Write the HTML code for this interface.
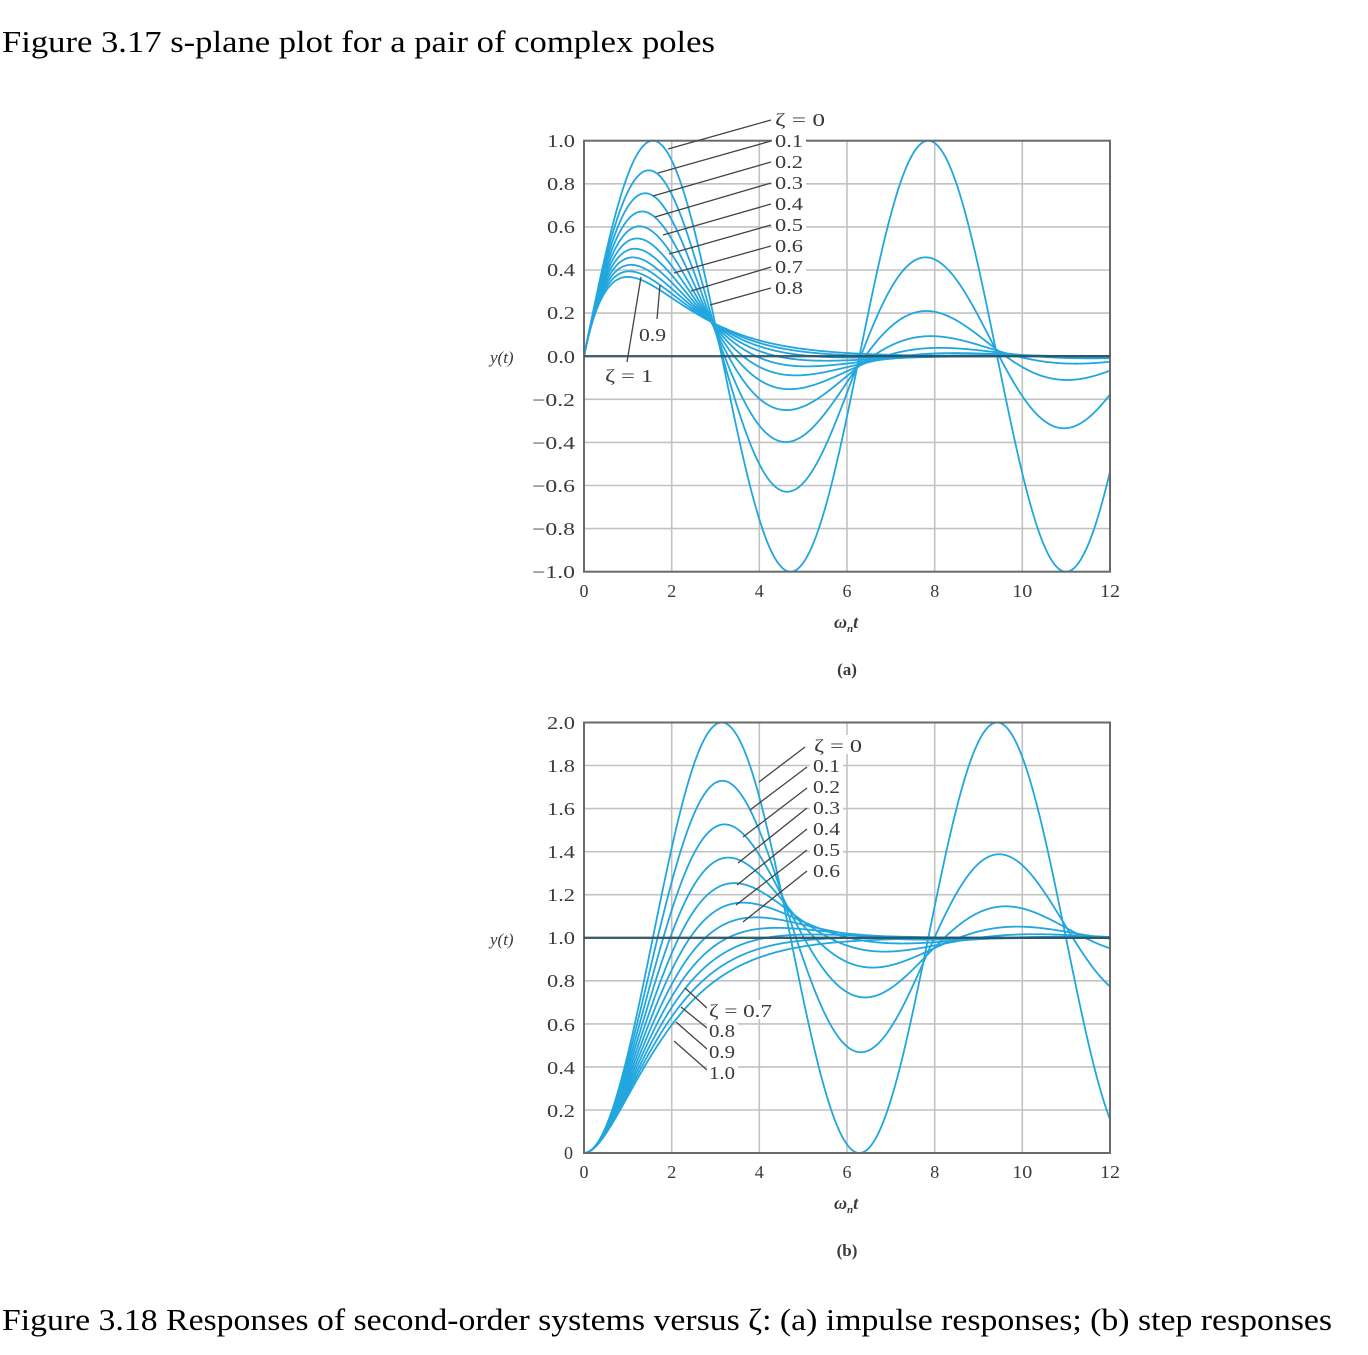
<!DOCTYPE html>
<html><head><meta charset="utf-8"><style>
html,body{margin:0;padding:0;background:#fff;}
svg{display:block;}
.t{font-family:"Liberation Serif",serif;fill:#3a3a3a;font-size:18px;}
.cap{font-family:"Liberation Serif","Noto Serif CJK SC",serif;fill:#000;font-size:31px;}
.c{fill:none;stroke:#22a6de;stroke-width:1.8;}
.g{stroke:#c2c2c2;stroke-width:1.6;}
.ld{stroke:#444;stroke-width:1.3;}
.sm{font-family:"Liberation Serif",serif;fill:#3a3a3a;}
</style></head><body>
<svg width="1368" height="1355" viewBox="0 0 1368 1355">
<rect width="1368" height="1355" fill="#fff"/>
<text class="cap" x="2" y="52" textLength="713" lengthAdjust="spacingAndGlyphs">Figure 3.17 s-plane plot for a pair of complex poles</text>
<text class="cap" x="2" y="1330" textLength="1330" lengthAdjust="spacingAndGlyphs">Figure 3.18 Responses of second-order systems versus ζ: (a) impulse responses; (b) step responses</text>

<!-- TOP PLOT -->
<g id="topgrid"></g>
<defs>
<clipPath id="ct"><rect x="584" y="139" width="526" height="434"/></clipPath>
<clipPath id="cb"><rect x="584" y="721" width="526" height="433"/></clipPath>
</defs>
<g id="topcurves" clip-path="url(#ct)"></g>
<rect x="584" y="140.7" width="526" height="431" fill="none" stroke="#6a6a6a" stroke-width="2"/>
<line x1="584" y1="356.2" x2="1110" y2="356.2" stroke="#2f4f5f" stroke-width="2.4" opacity="0.9"/>

<!-- top y tick labels -->
<g class="t" text-anchor="end">
<text x="575" y="147" textLength="28" lengthAdjust="spacingAndGlyphs">1.0</text>
<text x="575" y="190" textLength="28" lengthAdjust="spacingAndGlyphs">0.8</text>
<text x="575" y="233" textLength="28" lengthAdjust="spacingAndGlyphs">0.6</text>
<text x="575" y="276" textLength="28" lengthAdjust="spacingAndGlyphs">0.4</text>
<text x="575" y="319" textLength="28" lengthAdjust="spacingAndGlyphs">0.2</text>
<text x="575" y="363" textLength="28" lengthAdjust="spacingAndGlyphs">0.0</text>
<text x="575" y="406" textLength="43" lengthAdjust="spacingAndGlyphs">−0.2</text>
<text x="575" y="449" textLength="43" lengthAdjust="spacingAndGlyphs">−0.4</text>
<text x="575" y="492" textLength="43" lengthAdjust="spacingAndGlyphs">−0.6</text>
<text x="575" y="535" textLength="43" lengthAdjust="spacingAndGlyphs">−0.8</text>
<text x="575" y="578" textLength="43" lengthAdjust="spacingAndGlyphs">−1.0</text>
</g>
<g class="t" text-anchor="middle">
<text x="584" y="597">0</text>
<text x="671.7" y="597">2</text>
<text x="759.3" y="597">4</text>
<text x="847" y="597">6</text>
<text x="934.7" y="597">8</text>
<text x="1022.3" y="597" textLength="20" lengthAdjust="spacingAndGlyphs">10</text>
<text x="1110" y="597" textLength="20" lengthAdjust="spacingAndGlyphs">12</text>
</g>
<text class="sm" x="834" y="628" font-size="18" font-style="italic" font-weight="bold">ω<tspan font-size="11" dy="4">n</tspan><tspan dy="-4">t</tspan></text>
<text class="sm" x="847" y="675" text-anchor="middle" font-size="17" font-weight="bold">(a)</text>
<text class="sm" x="490" y="363" font-size="17" font-style="italic">y(t)</text>

<!-- top leaders -->
<g class="ld">
<line x1="771" y1="120" x2="668" y2="149"/>
<line x1="771" y1="141" x2="658" y2="173"/>
<line x1="771" y1="162" x2="653" y2="196"/>
<line x1="771" y1="183" x2="655" y2="217"/>
<line x1="771" y1="204" x2="663" y2="235"/>
<line x1="771" y1="225" x2="669" y2="254"/>
<line x1="771" y1="246" x2="674" y2="273"/>
<line x1="771" y1="267" x2="691" y2="291"/>
<line x1="771" y1="288" x2="710" y2="305"/>
<line x1="657" y1="319" x2="660" y2="285"/>
<line x1="627" y1="362" x2="641" y2="277"/>
</g>
<g fill="#fff">
<rect x="772" y="109" width="56" height="20"/>
<rect x="772" y="131" width="34" height="19"/>
<rect x="772" y="152" width="34" height="19"/>
<rect x="772" y="173" width="34" height="19"/>
<rect x="772" y="194" width="34" height="19"/>
<rect x="772" y="215" width="34" height="19"/>
<rect x="772" y="236" width="34" height="19"/>
<rect x="772" y="257" width="34" height="19"/>
<rect x="772" y="278" width="34" height="19"/>
</g>
<g class="t">
<text x="775" y="126" textLength="50" lengthAdjust="spacingAndGlyphs">ζ = 0</text>
<text x="775" y="147" textLength="28" lengthAdjust="spacingAndGlyphs">0.1</text>
<text x="775" y="168" textLength="28" lengthAdjust="spacingAndGlyphs">0.2</text>
<text x="775" y="189" textLength="28" lengthAdjust="spacingAndGlyphs">0.3</text>
<text x="775" y="210" textLength="28" lengthAdjust="spacingAndGlyphs">0.4</text>
<text x="775" y="231" textLength="28" lengthAdjust="spacingAndGlyphs">0.5</text>
<text x="775" y="252" textLength="28" lengthAdjust="spacingAndGlyphs">0.6</text>
<text x="775" y="273" textLength="28" lengthAdjust="spacingAndGlyphs">0.7</text>
<text x="775" y="294" textLength="28" lengthAdjust="spacingAndGlyphs">0.8</text>
<text x="639" y="341" textLength="27" lengthAdjust="spacingAndGlyphs">0.9</text>
<text x="605" y="382" textLength="48" lengthAdjust="spacingAndGlyphs">ζ = 1</text>
</g>

<!-- BOTTOM PLOT -->
<g id="botgrid"></g>
<g id="botcurves" clip-path="url(#cb)"></g>
<rect x="584" y="722.5" width="526" height="430.5" fill="none" stroke="#6a6a6a" stroke-width="2"/>
<line x1="584" y1="937.8" x2="1110" y2="937.8" stroke="#2f4f5f" stroke-width="2.4" opacity="0.9"/>

<g class="t" text-anchor="end">
<text x="575" y="729" textLength="28" lengthAdjust="spacingAndGlyphs">2.0</text>
<text x="575" y="772" textLength="28" lengthAdjust="spacingAndGlyphs">1.8</text>
<text x="575" y="815" textLength="28" lengthAdjust="spacingAndGlyphs">1.6</text>
<text x="575" y="858" textLength="28" lengthAdjust="spacingAndGlyphs">1.4</text>
<text x="575" y="901" textLength="28" lengthAdjust="spacingAndGlyphs">1.2</text>
<text x="575" y="944" textLength="28" lengthAdjust="spacingAndGlyphs">1.0</text>
<text x="575" y="987" textLength="28" lengthAdjust="spacingAndGlyphs">0.8</text>
<text x="575" y="1031" textLength="28" lengthAdjust="spacingAndGlyphs">0.6</text>
<text x="575" y="1074" textLength="28" lengthAdjust="spacingAndGlyphs">0.4</text>
<text x="575" y="1117" textLength="28" lengthAdjust="spacingAndGlyphs">0.2</text>
<text x="573" y="1159">0</text>
</g>
<g class="t" text-anchor="middle">
<text x="584" y="1178">0</text>
<text x="671.7" y="1178">2</text>
<text x="759.3" y="1178">4</text>
<text x="847" y="1178">6</text>
<text x="934.7" y="1178">8</text>
<text x="1022.3" y="1178" textLength="20" lengthAdjust="spacingAndGlyphs">10</text>
<text x="1110" y="1178" textLength="20" lengthAdjust="spacingAndGlyphs">12</text>
</g>
<text class="sm" x="834" y="1209" font-size="18" font-style="italic" font-weight="bold">ω<tspan font-size="11" dy="4">n</tspan><tspan dy="-4">t</tspan></text>
<text class="sm" x="847" y="1256" text-anchor="middle" font-size="17" font-weight="bold">(b)</text>
<text class="sm" x="490" y="945" font-size="17" font-style="italic">y(t)</text>

<g class="ld">
<line x1="805" y1="747" x2="759" y2="782"/>
<line x1="807" y1="767" x2="750" y2="810"/>
<line x1="807" y1="788" x2="743" y2="837"/>
<line x1="807" y1="808" x2="738" y2="863"/>
<line x1="807" y1="829" x2="737" y2="885"/>
<line x1="807" y1="850" x2="736" y2="905"/>
<line x1="807" y1="871" x2="743" y2="922"/>
<line x1="685" y1="988" x2="707" y2="1008"/>
<line x1="681" y1="1007" x2="707" y2="1028"/>
<line x1="676" y1="1022" x2="707" y2="1049"/>
<line x1="674" y1="1041" x2="707" y2="1070"/>
</g>
<g fill="#fff">
<rect x="811" y="735" width="55" height="19"/>
<rect x="810" y="756" width="33" height="19"/>
<rect x="810" y="777" width="33" height="19"/>
<rect x="810" y="798" width="33" height="19"/>
<rect x="810" y="819" width="33" height="19"/>
<rect x="810" y="840" width="33" height="19"/>
<rect x="810" y="861" width="33" height="19"/>
<rect x="707" y="1000" width="68" height="19"/>
<rect x="707" y="1021" width="31" height="19"/>
<rect x="707" y="1042" width="31" height="19"/>
<rect x="707" y="1063" width="31" height="19"/>
</g>
<g class="t">
<text x="814" y="752" textLength="48" lengthAdjust="spacingAndGlyphs">ζ = 0</text>
<text x="813" y="772" textLength="27" lengthAdjust="spacingAndGlyphs">0.1</text>
<text x="813" y="793" textLength="27" lengthAdjust="spacingAndGlyphs">0.2</text>
<text x="813" y="814" textLength="27" lengthAdjust="spacingAndGlyphs">0.3</text>
<text x="813" y="835" textLength="27" lengthAdjust="spacingAndGlyphs">0.4</text>
<text x="813" y="856" textLength="27" lengthAdjust="spacingAndGlyphs">0.5</text>
<text x="813" y="877" textLength="27" lengthAdjust="spacingAndGlyphs">0.6</text>
<text x="709" y="1017" textLength="63" lengthAdjust="spacingAndGlyphs">ζ = 0.7</text>
<text x="709" y="1037" textLength="26" lengthAdjust="spacingAndGlyphs">0.8</text>
<text x="709" y="1058" textLength="26" lengthAdjust="spacingAndGlyphs">0.9</text>
<text x="709" y="1079" textLength="26" lengthAdjust="spacingAndGlyphs">1.0</text>
</g>
</svg>
<script>
(function(){
  var sx=526/12;
  function X(t){return 584+t*sx;}
  function imp(z,t){ if(z>=1) return t*Math.exp(-t); var w=Math.sqrt(1-z*z); return Math.exp(-z*t)*Math.sin(w*t)/w;}
  function stp(z,t){ if(z>=1) return 1-Math.exp(-t)*(1+t); var w=Math.sqrt(1-z*z); return 1-Math.exp(-z*t)*(Math.cos(w*t)+z/w*Math.sin(w*t));}
  function grid(y0,y1){
    var s='';
    for(var k=1;k<6;k++){var x=X(2*k).toFixed(1);s+='<line class="g" x1="'+x+'" y1="'+y0+'" x2="'+x+'" y2="'+y1+'"/>';}
    return s;
  }
  var tg=grid(140.7,571.7);
  for(var k=-4;k<=4;k++){ if(k===0) continue; var y=(356.2-k*43.1).toFixed(1); tg+='<line class="g" x1="584" y1="'+y+'" x2="1110" y2="'+y+'"/>';}
  document.getElementById('topgrid').innerHTML=tg;
  var bg=grid(722.5,1153);
  for(var k=1;k<=9;k++){ var y=(1153-k*43.05).toFixed(1); bg+='<line class="g" x1="584" y1="'+y+'" x2="1110" y2="'+y+'"/>';}
  document.getElementById('botgrid').innerHTML=bg;
  var tc='',bc='';
  for(var i=0;i<=10;i++){
    var z=i/10, d1='', d2='';
    for(var j=0;j<=600;j++){
      var t=j*0.02;
      var yt=356.2-imp(z,t)*215.5;
      var yb=1153-stp(z,t)*215.25;
      d1+=(j?'L':'M')+X(t).toFixed(2)+' '+yt.toFixed(2);
      d2+=(j?'L':'M')+X(t).toFixed(2)+' '+yb.toFixed(2);
    }
    tc+='<path class="c" d="'+d1+'"/>';
    bc+='<path class="c" d="'+d2+'"/>';
  }
  document.getElementById('topcurves').innerHTML=tc;
  document.getElementById('botcurves').innerHTML=bc;
})();
</script>
</body></html>
